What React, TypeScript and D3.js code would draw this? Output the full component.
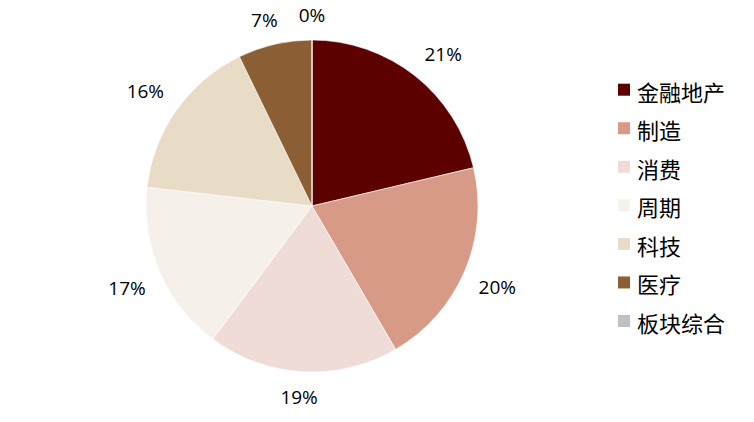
import React from "react";
import * as d3 from "d3";

const categories = ["金融地产", "制造", "消费", "周期", "科技", "医疗", "板块综合"];
const values = [21.3, 20.3, 18.6, 16.6, 16.0, 7.2, 0];
const colors = ["#5C0000", "#D79A87", "#F0DCD6", "#F6F0EA", "#E8DCC6", "#8B5E34", "#BFBFBF"];

export default function App() {
  const W = 754, H = 422;
  const cx = 312, cy = 206, r = 166;
  const total = d3.sum(values);
  const pie = d3.pie<number>().sort(null).value((d) => d)(values);
  const arc = d3.arc<d3.PieArcDatum<number>>().innerRadius(0).outerRadius(r);
  const legendY = d3.scalePoint<string>().domain(categories).range([89.7, 321]);
  const sm = (v: number) => Math.max(-1, Math.min(1, v * 2.5));
  return (
    <svg width={W} height={H} style={{ position: "absolute", left: 0, top: 0 }}>
      <rect width={W} height={H} fill="#fff" />
      <g transform={`translate(${cx},${cy})`}>
        {pie.map((p, i) => (
          <path key={i} d={arc(p) || ""} fill={colors[i]} stroke="#fff" strokeWidth={0.6} />
        ))}
        {pie.map((p, i) => {
          const a = (p.startAngle + p.endAngle) / 2;
          const s = Math.sin(a), c = -Math.cos(a);
          const label = Math.round((p.value / total) * 100) + "%";
          const hw = label.length * 12.6 / 2;
          const hh = 10;
          const R = r + 15;
          const x = R * s + hw * sm(s);
          const y = R * c + hh * sm(c);
          return (
            <text key={"l" + i} x={x} y={y} textAnchor="middle" dominantBaseline="central"
              fontFamily="'Open Sans', 'Liberation Sans', sans-serif" fontSize={19} fill="#000">
              {label}
            </text>
          );
        })}
      </g>
      {categories.map((cat, i) => (
        <g key={cat} transform={`translate(618,${legendY(cat)})`}>
          <rect x={0} y={-6} width={12} height={12} fill={colors[i]} />
          <text x={19} y={1} dominantBaseline="central" fontFamily="'Noto Sans CJK SC', sans-serif"
            fontSize={22} fill="#000">{cat}</text>
        </g>
      ))}
    </svg>
  );
}
